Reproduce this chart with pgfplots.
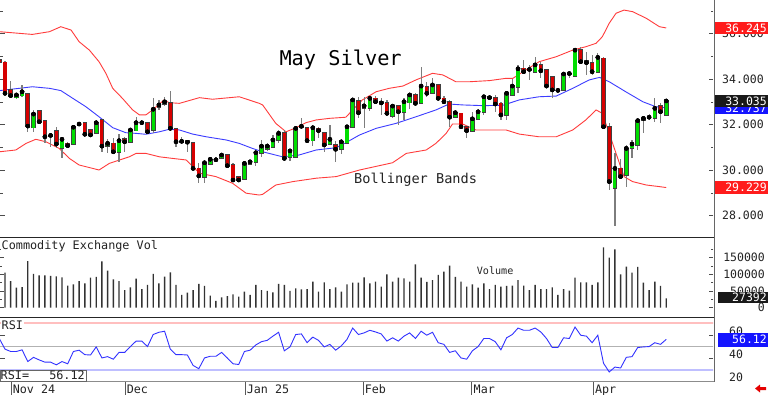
\documentclass[border=0pt]{standalone}
\usepackage{pgfplots}
\pgfplotsset{compat=1.18}
\usepackage{pgfplotstable}
\usepackage{fontspec}
\setmainfont{DejaVu Sans Mono}
\definecolor{cgreen}{RGB}{0,222,0}
\definecolor{cred}{RGB}{214,0,0}
\definecolor{band}{RGB}{255,60,60}
\definecolor{mid}{RGB}{60,60,255}
\definecolor{rsiblue}{RGB}{50,50,255}
\definecolor{wick}{RGB}{125,125,125}
\definecolor{boxred}{RGB}{255,28,28}
\definecolor{boxblue}{RGB}{20,20,255}
\definecolor{txt}{RGB}{35,35,35}

\pgfplotstableread{
i O H L C
0 34.85 35.20 34.60 34.75
1 34.73 34.78 33.30 33.37
2 33.52 33.93 33.15 33.27
3 33.18 33.37 33.12 33.30
4 33.27 33.74 33.22 33.44
5 33.34 33.36 31.68 31.93
6 31.86 32.64 31.68 32.46
7 32.59 32.64 32.08 32.12
8 32.15 32.20 31.20 31.46
9 31.48 31.55 31.02 31.52
10 31.71 31.90 30.95 31.14
11 30.98 31.35 30.51 31.35
12 31.17 31.24 31.05 31.07
13 31.13 31.93 31.10 31.88
14 31.98 32.08 31.95 32.02
15 32.08 32.12 31.54 31.57
16 31.76 31.80 31.50 31.54
17 31.61 32.12 31.58 32.08
18 32.20 32.22 30.80 31.05
19 31.05 31.35 30.73 31.17
20 31.17 31.39 30.73 30.80
21 30.78 31.58 30.34 31.29
22 31.36 31.46 30.80 31.24
23 31.22 31.83 31.17 31.76
24 31.73 32.34 31.70 32.08
25 32.04 32.15 31.98 32.08
26 32.08 32.12 31.64 31.68
27 31.76 33.15 31.61 32.67
28 32.78 33.08 32.64 32.86
29 32.89 33.22 32.81 33.00
30 32.96 33.49 31.80 31.83
31 31.79 31.80 31.02 31.24
32 31.22 31.44 31.17 31.26
33 31.29 31.32 30.80 31.22
34 31.20 31.25 30.00 30.07
35 30.07 30.32 29.42 29.74
36 29.68 30.44 29.44 30.32
37 30.26 30.58 30.22 30.47
38 30.49 30.56 30.40 30.45
39 30.54 30.73 30.51 30.66
40 30.66 30.70 30.17 30.19
41 30.22 30.29 29.53 29.56
42 29.68 29.72 29.53 29.56
43 29.60 30.29 29.58 30.29
44 30.25 30.45 30.20 30.36
45 30.36 30.80 30.18 30.76
46 30.73 31.32 30.58 31.05
47 30.92 31.20 30.85 31.05
48 31.00 31.54 30.95 31.32
49 31.32 31.76 31.20 31.61
50 31.64 31.76 30.47 30.51
51 30.58 30.90 30.40 30.84
52 30.58 31.90 30.55 31.83
53 31.88 32.27 31.84 31.92
54 31.86 31.90 31.20 31.29
55 31.29 31.90 31.05 31.86
56 31.83 31.90 31.39 31.73
57 31.64 31.66 30.80 31.10
58 31.14 31.98 31.12 31.35
59 31.10 31.29 30.36 30.91
60 30.91 31.35 30.70 31.24
61 31.17 31.95 31.15 31.90
62 31.90 33.12 31.86 33.08
63 33.03 33.22 32.30 32.52
64 32.72 33.22 31.83 32.82
65 32.71 33.20 32.60 33.15
66 33.15 33.25 32.95 33.00
67 33.00 33.15 32.42 32.95
68 32.96 33.08 32.42 32.49
69 32.37 32.86 32.30 32.81
70 32.81 32.86 31.98 32.56
71 32.56 33.15 32.20 33.00
72 32.96 33.37 32.70 33.30
73 33.30 33.40 32.85 32.93
74 32.93 34.54 32.90 33.69
75 33.66 33.85 33.20 33.37
76 33.37 34.03 33.35 33.74
77 33.74 33.80 33.10 33.15
78 33.15 33.25 32.95 33.00
79 33.00 33.08 31.90 32.32
80 32.34 32.60 32.28 32.52
81 32.49 32.50 31.83 31.90
82 31.88 31.90 31.39 31.73
83 31.70 32.55 31.68 32.25
84 32.23 32.70 32.20 32.56
85 32.56 33.22 32.40 33.22
86 33.22 33.30 33.10 33.18
87 33.18 33.30 32.56 32.90
88 32.93 33.00 32.20 32.42
89 32.42 33.44 32.20 33.37
90 33.30 34.00 33.25 33.69
91 33.66 34.62 33.40 34.45
92 34.47 34.84 34.30 34.32
93 34.38 34.62 33.96 34.42
94 34.32 34.95 34.30 34.62
95 34.62 34.75 34.05 34.36
96 34.40 34.42 33.65 33.69
97 34.10 34.12 33.15 33.52
98 33.54 33.60 33.45 33.50
99 33.52 34.30 33.48 34.22
100 34.20 34.35 34.05 34.24
101 34.13 35.35 34.10 35.27
102 35.27 35.42 34.70 34.76
103 34.80 35.20 34.18 34.72
104 34.72 35.05 34.18 34.32
105 34.32 35.13 34.28 34.95
106 34.91 34.95 31.80 31.90
107 31.90 32.05 29.12 29.49
108 29.19 30.73 27.54 30.07
109 30.07 30.50 29.60 29.71
110 29.78 31.10 29.27 30.95
111 30.95 31.32 30.51 31.14
112 31.10 32.20 30.88 32.17
113 32.20 32.34 31.64 32.27
114 32.27 32.45 32.20 32.32
115 32.27 33.15 32.12 32.71
116 32.81 32.93 32.08 32.56
117 32.42 33.08 32.40 33.035
}\candles

\pgfplotstableread{
i V
1 104900
2 79800
3 59700
4 61700
5 140000
6 100900
7 96900
8 96900
9 94900
10 93900
11 90900
12 65800
13 69800
14 79800
15 72800
16 89900
17 91900
18 139000
19 110900
20 84800
21 79800
22 52700
23 60700
24 86800
25 55700
26 67800
27 100900
28 72800
29 92900
30 105900
31 67800
32 37700
33 44700
34 52700
35 70800
36 64800
37 35600
38 19600
39 30600
40 34600
41 39700
42 32600
43 47700
44 37700
45 67800
46 52700
47 49700
48 45700
49 70800
50 67800
51 49700
52 57700
53 54700
54 55700
55 77800
56 47700
57 75800
58 55700
59 60700
60 47700
61 69800
62 74800
63 74800
64 90900
65 72800
66 77800
67 62700
68 99900
69 77800
70 89900
71 87900
72 77800
73 130000
74 89900
75 76800
76 82800
77 97900
78 107900
79 126000
80 91900
81 77800
82 62700
83 69800
84 59700
85 72800
86 55700
87 67800
88 62700
89 64800
90 65800
91 82800
92 65800
93 52700
94 67800
95 55700
96 55700
97 60700
98 37700
99 55700
100 50700
101 89900
102 75800
103 75800
104 67800
105 75800
106 181200
107 150100
108 175200
109 99900
110 123000
111 104900
112 122000
113 74800
114 52700
115 77800
116 64800
117 27392
}\vol

\pgfplotstableread{
i R
0 56.9
1 47.8
2 45.8
3 45.8
4 47.2
5 37.2
6 40.8
7 38.6
8 36.7
9 36.7
10 34.4
11 37.2
12 35.3
13 45.8
14 46.9
15 43.1
16 42.8
17 49.7
18 40.3
19 41.4
20 39.2
21 45.0
22 45.0
23 50.0
24 54.7
25 54.7
26 50.0
27 60.3
28 62.2
29 63.1
30 47.8
31 43.1
32 43.1
33 42.8
34 33.9
35 31.1
36 40.3
37 41.7
38 41.7
39 45.0
40 40.3
41 35.3
42 34.7
43 45.8
44 46.9
45 51.4
46 54.2
47 55.3
48 58.9
49 62.2
50 46.4
51 49.7
52 60.3
53 60.8
54 53.3
55 58.1
56 55.3
57 49.7
58 51.9
59 46.9
60 50.6
61 56.1
62 65.8
63 60.3
64 61.7
65 63.9
66 62.5
67 60.8
68 54.7
69 57.5
70 54.7
71 58.9
72 61.7
73 56.9
74 63.1
75 59.7
76 62.2
77 53.3
78 51.9
79 45.0
80 46.4
81 40.3
82 39.2
83 46.4
84 50.0
85 56.9
86 56.9
87 54.2
88 47.2
89 57.5
90 60.3
91 65.8
92 63.9
93 63.9
94 65.8
95 62.5
96 56.9
97 49.2
98 49.2
99 57.5
100 56.9
101 66.7
102 59.7
103 58.9
104 53.3
105 59.7
106 35.8
107 28.3
108 32.5
109 31.7
110 40.8
111 41.4
112 49.2
113 49.7
114 50.0
115 53.3
116 51.9
117 56.12
}\rsi

\pgfplotsset{
  panel/.style={scale only axis, width=713pt, xmin=0.123, xmax=125.21,
    axis line style={draw=none}, xtick=\empty, tick align=inside,
    ytick pos=both, yticklabel pos=right,
    major tick length=4.5pt, minor tick length=2.5pt,
    every tick/.style={black!70, line width=0.5pt},
    every tick label/.append style={font=\fontsize{11.5}{12}\selectfont, text=txt}},
  wicks/.style={only marks, mark=none, error bars/.cd, y dir=both, y explicit,
    error mark=none, error bar style={wick, line width=1.2pt}},
  bodies/.style={only marks, mark=none, error bars/.cd, y dir=both, y explicit,
    error mark=none, error bar style={#1}},
}

\begin{document}
\begin{tikzpicture}
\useasboundingbox (0pt,0pt) rectangle (768pt,-395pt);
\fill[white] (0pt,0pt) rectangle (768pt,-395pt);

% ---------------- price panel
\begin{axis}[panel, at={(0pt,-237.5pt)}, anchor=south west, height=237.5pt,
  ymin=27.033, ymax=37.473,
  ytick={28,30,32,34,36}, yticklabels={28.000,30.000,32.000,34.000,36.000},
  minor ytick={27,29,31,33,35,37},
  yticklabel style={anchor=west, inner sep=0pt, xshift=9pt}]
\addplot[band, line width=0.9pt] coordinates {(0,36.08) (5.8,35.96) (8.8,36.08) (10.8,36.30) (12.6,36.15) (14.0,35.64) (15.8,35.27) (17.5,34.76) (18.7,34.25) (19.9,33.59) (21.6,33.15) (23.4,32.64) (24.6,32.42) (25.7,32.42) (26.9,32.64) (28.9,33.08) (29.8,32.96) (31.6,32.93) (35.1,33.18) (37.4,33.11) (42.1,33.22) (45.6,32.93) (46.2,32.86) (48.5,32.05) (50.3,31.68) (51.8,31.83) (53.8,32.08) (55.6,32.20) (57.9,32.27) (60.8,32.32) (62.0,32.64) (63.7,33.08) (66.1,33.44) (68.4,33.59) (70.8,33.69) (73.1,33.96) (76.0,34.25) (77.8,34.18) (80.1,33.88) (82.5,33.88) (86.0,33.93) (88.9,34.03) (90.1,34.03) (92.4,34.40) (94.7,34.76) (97.7,34.98) (100.6,35.27) (102.9,35.42) (104.7,35.57) (105.8,35.86) (107.0,36.45) (108.2,36.89) (109.6,37.03) (111.1,36.96) (113.5,36.67) (115.8,36.30) (117,36.245)};
\addplot[band, line width=0.9pt] coordinates {(0,30.80) (2.9,30.88) (4.7,31.17) (6.4,31.35) (8.2,31.24) (10.5,30.95) (12.3,30.51) (14.0,30.22) (16.4,30.07) (17.5,30.00) (19.3,30.29) (21.1,30.44) (22.8,30.58) (24.0,30.73) (25.7,30.73) (28.1,30.58) (30.4,30.51) (32.8,30.44) (35.1,29.86) (38.0,29.71) (40.9,29.42) (43.3,28.98) (45.6,28.90) (46.2,28.93) (48.5,29.34) (51.5,29.49) (55.6,29.64) (59.1,29.71) (63.2,30.00) (67.2,30.22) (69.0,30.32) (71.4,30.73) (74.9,30.88) (76.6,31.17) (78.4,31.61) (79.5,32.02) (81.3,32.02) (83.6,31.76) (86.0,31.76) (88.9,31.76) (91.2,31.58) (94.7,31.46) (97.7,31.46) (100.6,31.76) (102.9,32.20) (104.7,32.64) (105.8,32.49) (107.0,31.61) (108.2,30.73) (109.6,29.71) (111.1,29.49) (113.5,29.34) (115.8,29.27) (117,29.229)};
\addplot[mid, line width=0.9pt] coordinates {(0,33.49) (3.5,33.59) (5.8,33.66) (8.8,33.59) (10.8,33.49) (12.9,33.15) (15.2,32.78) (17.5,32.34) (19.9,31.86) (22.2,31.64) (24.0,31.61) (25.7,31.57) (28.1,31.68) (29.8,31.79) (31.6,31.76) (33.9,31.58) (36.3,31.46) (39.8,31.32) (42.1,31.17) (44.4,30.95) (46.2,30.80) (49.7,30.58) (52.6,30.66) (55.6,30.88) (59.1,30.98) (60.8,31.20) (63.2,31.54) (66.1,31.83) (69.6,32.05) (73.1,32.34) (76.6,32.64) (78.9,32.90) (81.3,32.86) (84.8,32.83) (88.3,32.84) (91.2,33.08) (94.7,33.22) (97.7,33.25) (100.6,33.59) (103.5,33.96) (105.3,34.07) (107.0,33.88) (109.9,33.44) (112.9,33.00) (115.2,32.78) (117,32.737)};
% wicks
\addplot[wicks] table[x=i, y=C, y error plus expr=\thisrow{H}-\thisrow{C}, y error minus expr=\thisrow{C}-\thisrow{L}] {\candles};
% body outlines
\addplot[bodies={black!75, line width=4.6pt}] table[x=i, y=C, y error plus expr={max(\thisrow{O},\thisrow{C})-\thisrow{C}+0.035}, y error minus expr={\thisrow{C}-min(\thisrow{O},\thisrow{C})+0.035}] {\candles};
% green bodies
\addplot[restrict expr to domain={\thisrow{C}-\thisrow{O}}{0:100}, bodies={cgreen, line width=3.1pt}] table[x=i, y=C, y error plus expr=0, y error minus expr=\thisrow{C}-\thisrow{O}] {\candles};
% red bodies
\addplot[restrict expr to domain={\thisrow{O}-\thisrow{C}}{0.0001:100}, bodies={cred, line width=3.1pt}] table[x=i, y=C, y error plus expr=\thisrow{O}-\thisrow{C}, y error minus expr=0] {\candles};
\end{axis}

% ---------------- volume panel
\begin{axis}[panel, at={(0pt,-317.3pt)}, anchor=south west, height=79.8pt,
  ymin=-29500, ymax=210800, scaled y ticks=false,
  ytick={0,50000,100000,150000}, yticklabels={0,50000,100000,150000},
  minor ytick={25000,75000,125000,175000},
  yticklabel style={anchor=east, inner sep=0pt, xshift=52pt}]
\addplot[ybar, bar width=1.4pt, fill=black!80, draw=none] table[x=i, y=V] {\vol};
\end{axis}

% ---------------- RSI panel
\begin{axis}[panel, at={(0pt,-381.7pt)}, anchor=south west, height=64.4pt,
  ymin=20, ymax=75, ytick={20,40,60}, yticklabels={20,40,60}, minor ytick={30,50,70},
  yticklabel style={anchor=west, inner sep=0pt, xshift=16pt, yshift=4pt}]
\addplot[red!25, line width=1.8pt] coordinates {(0,70) (126,70)};
\addplot[black!30, line width=1pt] coordinates {(0,50) (126,50)};
\addplot[blue!25, line width=1.3pt] coordinates {(0,30) (126,30)};
\addplot[rsiblue, line width=0.9pt] table[x=i, y=R] {\rsi};
\end{axis}

% ---------------- date row
\begin{axis}[scale only axis, width=713pt, height=13.3pt, at={(0pt,-395pt)}, anchor=south west,
  xmin=0.123, xmax=125.21, ymin=0, ymax=1, axis line style={draw=none}, ytick=\empty,
  xtick={2.05,22.05,43.1,63.8,82.9,104.2},
  xticklabels={Nov 24,Dec,Jan 25,Feb,Mar,Apr},
  major tick length=0pt, xmajorgrids, major grid style={black!65, line width=0.8pt},
  xticklabel style={anchor=base west, inner sep=0pt, xshift=1.7pt, yshift=1.5pt,
    font=\fontsize{11.7}{12}\selectfont, text=txt}]
\addplot[draw=none] coordinates {(1,0.5)};
\end{axis}

% frame lines
\draw[black!85, line width=1.6pt] (0pt,-237.5pt) -- (714pt,-237.5pt);
\draw[black!85, line width=1.6pt] (0pt,-317.3pt) -- (714pt,-317.3pt);
\draw[black!45, line width=0.7pt] (0pt,-381.7pt) -- (714pt,-381.7pt);
\draw[black!60, line width=0.7pt] (714pt,0pt) -- (714pt,-381.7pt);

% text
\node[anchor=base west, inner sep=0pt, font=\fontsize{20.3}{22}\selectfont, text=black] at (279.3pt,-66pt) {May Silver};
\node[anchor=base west, inner sep=0pt, font=\fontsize{13.6}{14}\selectfont, text=txt] at (354pt,-184pt) {Bollinger Bands};
\node[anchor=base west, inner sep=1pt, fill=white, font=\fontsize{11.8}{12}\selectfont, text=txt] at (0.5pt,-249.5pt) {Commodity Exchange Vol};
\node[anchor=base west, inner sep=0pt, font=\fontsize{10.1}{11}\selectfont, text=txt] at (476.7pt,-275pt) {Volume};
\node[anchor=base west, inner sep=1pt, fill=white, font=\fontsize{11.8}{12}\selectfont, text=txt] at (0.5pt,-329.5pt) {RSI};
\draw[black!60, fill=white, line width=0.6pt] (0pt,-370pt) rectangle (86pt,-381.7pt);
\node[anchor=base west, inner sep=0pt, font=\fontsize{11.8}{12}\selectfont, text=txt] at (0.5pt,-379.5pt) {RSI=};
\node[anchor=base east, inner sep=0pt, font=\fontsize{11.8}{12}\selectfont, text=txt] at (85pt,-379.5pt) {56.12};

% value boxes
\fill[boxred] (715pt,-21.6pt) rectangle (768pt,-34.3pt);
\node[anchor=east, inner sep=0.5pt, text=white, font=\fontsize{11.5}{12}\selectfont] at (767.5pt,-27.9pt) {36.245};
\fill[boxblue] (715pt,-101.5pt) rectangle (768pt,-114pt);
\node[anchor=east, inner sep=0.5pt, text=white, font=\fontsize{11.5}{12}\selectfont] at (767.5pt,-108pt) {32.737};
\fill[black!90] (715pt,-95pt) rectangle (768pt,-107pt);
\node[anchor=east, inner sep=0.5pt, text=white, font=\fontsize{11.5}{12}\selectfont] at (767.5pt,-101pt) {33.035};
\fill[boxred] (715pt,-181.3pt) rectangle (768pt,-193.6pt);
\node[anchor=east, inner sep=0.5pt, text=white, font=\fontsize{11.5}{12}\selectfont] at (767.5pt,-187.5pt) {29.229};
\fill[black!90] (718pt,-292pt) rectangle (768pt,-303pt);
\node[anchor=east, inner sep=0.5pt, text=white, font=\fontsize{11.5}{12}\selectfont] at (767.5pt,-297.5pt) {27392};
\fill[boxblue] (718pt,-333pt) rectangle (768pt,-346.5pt);
\node[anchor=east, inner sep=0.5pt, text=white, font=\fontsize{11.5}{12}\selectfont] at (767.5pt,-339.8pt) {56.12};

% small red arrow
\fill[red!90!black] (755pt,-388.5pt) -- (760pt,-384.5pt) -- (760pt,-387pt) -- (766pt,-387pt) -- (766pt,-390pt) -- (760pt,-390pt) -- (760pt,-392.5pt) -- cycle;
\end{tikzpicture}
\end{document}
